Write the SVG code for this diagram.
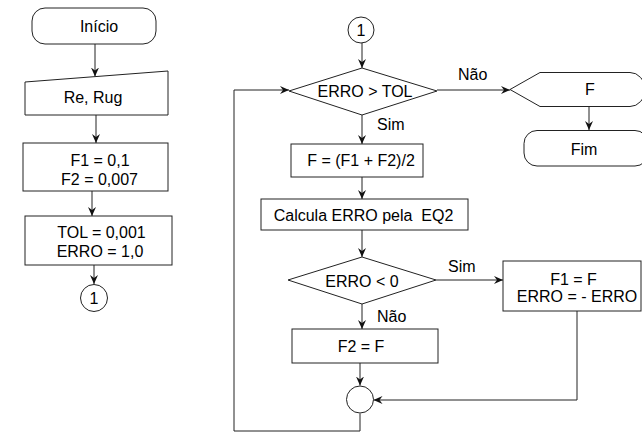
<svg xmlns="http://www.w3.org/2000/svg" width="642" height="433" viewBox="0 0 642 433">
<style>
.s{fill:#fff;stroke:#222;stroke-width:1}
.c{fill:none;stroke:#222;stroke-width:1}
.t{font-family:"Liberation Sans",Arial,sans-serif;font-size:16px;fill:#000;text-anchor:middle;white-space:pre}
.l{text-anchor:start}
</style>
<defs>
<marker id="ah" markerUnits="userSpaceOnUse" markerWidth="12" markerHeight="12" refX="9" refY="4.5" orient="auto">
<path d="M0,0.5 L9,4.5 L0,8.5 L3,4.5 Z" fill="#111"/>
</marker>
</defs>
<g id="connectors">
<path class="c" d="M95,44 V76.5" marker-end="url(#ah)"/>
<path class="c" d="M96,115 V143" marker-end="url(#ah)"/>
<path class="c" d="M92,191 V216" marker-end="url(#ah)"/>
<path class="c" d="M94,265 V284" marker-end="url(#ah)"/>
<path class="c" d="M362,42 V68" marker-end="url(#ah)"/>
<path class="c" d="M362,115 V144" marker-end="url(#ah)"/>
<path class="c" d="M362,177 V199" marker-end="url(#ah)"/>
<path class="c" d="M362,230 V257" marker-end="url(#ah)"/>
<path class="c" d="M362,304 V329" marker-end="url(#ah)"/>
<path class="c" d="M360,363 V385.5" marker-end="url(#ah)"/>
<path class="c" d="M577,311 V400 H373.5" marker-end="url(#ah)"/>
<path class="c" d="M360,413.5 V431 H234 V90 H289" marker-end="url(#ah)"/>
<path class="c" d="M437,90 H510" marker-end="url(#ah)"/>
<path class="c" d="M589,107 V130" marker-end="url(#ah)"/>
<path class="c" d="M436,280 H503" marker-end="url(#ah)"/>
<text class="t l" x="458" y="80">Não</text>
<text class="t l" x="377" y="130">Sim</text>
<text class="t l" x="448" y="272">Sim</text>
<text class="t l" x="377" y="322">Não</text>
</g>
<g id="inicio">
<rect class="s" x="32" y="8" width="124" height="36" rx="13"/>
<text class="t" x="99" y="32">Início</text>
</g>
<g id="entrada">
<path class="s" d="M25,82 L168,71 V115 H25 Z"/>
<text class="t" x="93" y="103">Re, Rug</text>
</g>
<g id="init-f">
<rect class="s" x="23" y="143" width="145" height="48"/>
<text class="t" x="100" y="166">F1 = 0,1</text>
<text class="t" x="99.5" y="185">F2 = 0,007</text>
</g>
<g id="init-tol">
<rect class="s" x="25" y="216" width="147" height="49"/>
<text class="t" x="101.5" y="238">TOL = 0,001</text>
<text class="t" x="100" y="257">ERRO = 1,0</text>
</g>
<g id="conector-out">
<circle class="s" cx="94" cy="298" r="13.5"/>
<text class="t" x="94" y="304">1</text>
</g>
<g id="conector-in">
<circle class="s" cx="361" cy="30" r="13"/>
<text class="t" x="361" y="36">1</text>
</g>
<g id="teste-tol">
<path class="s" d="M362,68 L437,91 L362,115 L289,91 Z"/>
<text class="t" x="365" y="97">ERRO &gt; TOL</text>
</g>
<g id="media">
<rect class="s" x="291" y="144" width="132" height="33"/>
<text class="t" x="361" y="166">F = (F1 + F2)/2</text>
</g>
<g id="calcula">
<rect class="s" x="261" y="199" width="207" height="31"/>
<text class="t" x="363.5" y="221">Calcula ERRO pela  EQ2</text>
</g>
<g id="teste-erro">
<path class="s" d="M362,257 L436,280 L362,304 L288,280 Z"/>
<text class="t" x="362" y="287">ERRO &lt; 0</text>
</g>
<g id="f1">
<rect class="s" x="503" y="261" width="138" height="50"/>
<text class="t" x="573.5" y="285">F1 = F</text>
<text class="t" x="577" y="302">ERRO = - ERRO</text>
</g>
<g id="f2">
<rect class="s" x="292" y="329" width="146" height="34"/>
<text class="t" x="361" y="352">F2 = F</text>
</g>
<g id="juncao">
<circle class="s" cx="360" cy="399.5" r="13.5"/>
</g>
<g id="saida">
<path class="s" d="M510,89.5 L540,72.5 H630 A15,17 0 0 1 630,106.5 H540 Z"/>
<text class="t" x="590" y="95">F</text>
</g>
<g id="fim">
<rect class="s" x="524" y="130.5" width="124" height="35.5" rx="13"/>
<text class="t" x="584" y="155">Fim</text>
</g>
</svg>
